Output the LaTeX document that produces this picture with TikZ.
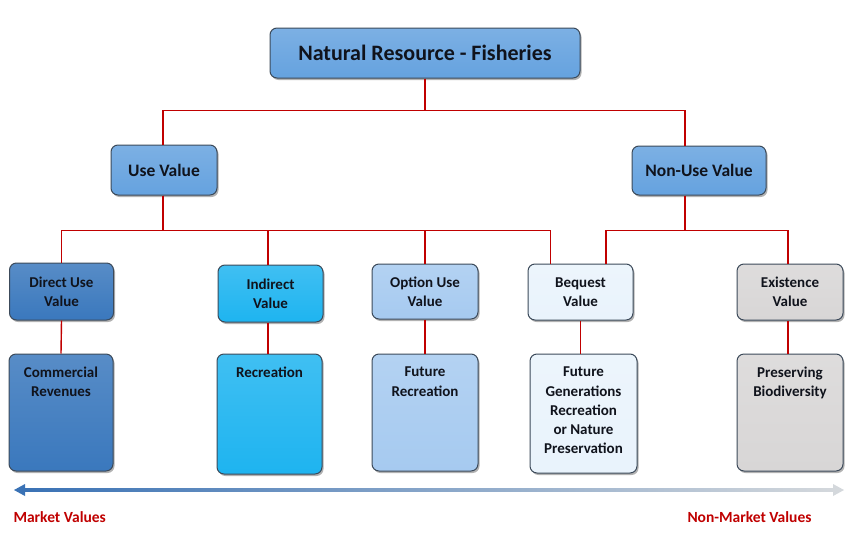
\documentclass[tikz,border=0pt]{standalone}
\usepackage{fontspec}
\setmainfont{Carlito}
\usetikzlibrary{shadows}
\definecolor{midblue}{HTML}{65A2DF}
\definecolor{darkblue}{HTML}{3A78BD}
\definecolor{cyanblue}{HTML}{1EB4F0}
\definecolor{lightblue}{HTML}{A6CAF0}
\definecolor{paleblue}{HTML}{E9F3FC}
\definecolor{greybox}{HTML}{D8D6D6}
\definecolor{boxline}{HTML}{3C4A5A}
\definecolor{linered}{HTML}{C00000}
\definecolor{textdark}{HTML}{10131C}
\definecolor{arrblue}{HTML}{3A72B5}
\definecolor{arrgrey}{HTML}{D4D8DC}
\tikzset{
  box/.style={draw=boxline, line width=1pt, rounded corners=7pt, inner sep=0pt,
    align=center, text=textdark, font=\bfseries,
    drop shadow={shadow xshift=1.5pt, shadow yshift=-2pt, opacity=0.3, fill=black}},
  shadeit/.style={top color=#1!85!white, bottom color=#1},
  lvlone/.style={box, font=\bfseries\fontsize{22}{26}\selectfont},
  lvltwo/.style={box, font=\bfseries\fontsize{17.5}{20}\selectfont},
  lvlthree/.style={box, font=\bfseries\fontsize{15}{19}\selectfont},
  inner/.style={anchor=north, align=center, text=textdark, font=\bfseries\fontsize{15}{19.3}\selectfont},
  conn/.style={draw=linered, line width=1.4pt},
  endlabel/.style={text=linered, font=\bfseries\fontsize{15.5}{18}\selectfont}
}
\begin{document}
\begin{tikzpicture}[x=1pt,y=-1pt]
\useasboundingbox[fill=white] (0,0) rectangle (845,538);

% nodes
\node[lvlone, shadeit=midblue, minimum width=310pt, minimum height=50pt] (top) at (425,53) {Natural Resource - Fisheries};
\node[lvltwo, shadeit=midblue, minimum width=106pt, minimum height=50pt] (use) at (164,170) {Use Value};
\node[lvltwo, shadeit=midblue, minimum width=134pt, minimum height=49pt] (nonuse) at (699,170.5) {Non-Use Value};

\node[lvlthree, shadeit=darkblue, minimum width=104pt, minimum height=57pt] (direct) at (61.5,291.5) {Direct Use\\Value};
\node[lvlthree, shadeit=cyanblue, minimum width=105pt, minimum height=57pt] (indirect) at (270.5,293.5) {Indirect\\Value};
\node[lvlthree, shadeit=lightblue, minimum width=106pt, minimum height=55pt] (option) at (425,291.5) {Option Use\\Value};
\node[lvlthree, shadeit=paleblue, minimum width=105pt, minimum height=56pt] (bequest) at (580.5,292) {Bequest\\Value};
\node[lvlthree, shadeit=greybox, minimum width=106pt, minimum height=56pt] (existence) at (790,292) {Existence\\Value};

\node[box, shadeit=darkblue, minimum width=104pt, minimum height=117pt] (commercial) at (61,412.5) {};
\node[box, shadeit=cyanblue, minimum width=105pt, minimum height=120pt] (recreation) at (269.5,414) {};
\node[box, shadeit=lightblue, minimum width=106pt, minimum height=117pt] (futrec) at (425,412.5) {};
\node[box, shadeit=paleblue, minimum width=107pt, minimum height=119pt] (futgen) at (583.5,413.5) {};
\node[box, shadeit=greybox, minimum width=106pt, minimum height=117pt] (preserve) at (790,412.5) {};

\node[inner] (tcommercial) at ([yshift=-10pt]commercial.north) {Commercial\\Revenues};
\node[inner] (trecreation) at ([yshift=-10pt]recreation.north) {Recreation};
\node[inner] (tfutrec) at ([yshift=-10pt]futrec.north) {Future\\Recreation};
\node[inner] (tfutgen) at ([yshift=-10pt]futgen.north) {Future\\Generations\\Recreation\\or Nature\\Preservation};
\node[inner] (tpreserve) at ([yshift=-10pt]preserve.north) {Preserving\\Biodiversity};

% connectors
\draw[conn] (top.south) -- ++(0,32) -| ([xshift=-1pt]use.north);
\draw[conn] (top.south) -- ++(0,32) -| ([xshift=-14pt]nonuse.north);
\draw[conn] ([xshift=-1pt]use.south) -- ++(0,35) -| (direct.north);
\draw[conn] ([xshift=-1pt]use.south) -- ++(0,35) -| ([xshift=-2.5pt]indirect.north);
\draw[conn] ([xshift=-1pt]use.south) -- ++(0,35) -| (option.north);
\draw[conn] ([xshift=-1pt]use.south) -- ++(0,35) -| ([xshift=-30pt]bequest.north);
\draw[conn] ([xshift=-14pt]nonuse.south) -- ++(0,35) -| ([xshift=25.5pt]bequest.north);
\draw[conn] ([xshift=-14pt]nonuse.south) -- ++(0,35) -| ([xshift=-2pt]existence.north);
\draw[conn] (direct.south) -- (commercial.north);
\draw[conn] ([xshift=-2.5pt]indirect.south) -- ([xshift=-1.5pt]recreation.north);
\draw[conn] (option.south) -- (futrec.north);
\draw[conn] (bequest.south) -- (bequest.south |- futgen.north);
\draw[conn] ([xshift=-2pt]existence.south) -- ([xshift=-2pt]preserve.north);

% market arrow
\coordinate (aleft) at (14,490);
\coordinate (aright) at (844,490);
\shade[left color=arrblue, right color=arrgrey] (24,488.3) rectangle (834,491.7);
\fill[arrblue] (aleft) -- (25,484) -- (25,496) -- cycle;
\fill[arrgrey] (aright) -- (833,484) -- (833,496) -- cycle;

\node[endlabel, anchor=west] (market) at (10,517) {Market Values};
\node[endlabel, anchor=east] (nonmarket) at (815,517) {Non-Market Values};
\end{tikzpicture}
\end{document}
